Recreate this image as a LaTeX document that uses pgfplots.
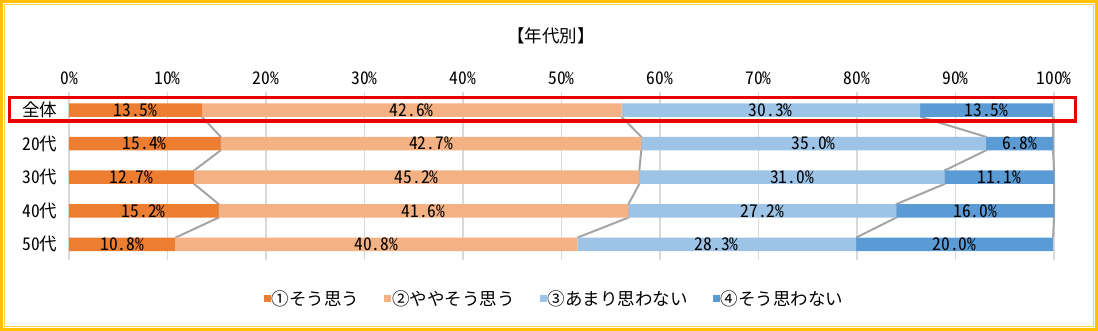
\documentclass[border=0pt]{standalone}
\usepackage{pgfplots}
\pgfplotsset{compat=1.18}
\usepackage{pgfplotstable}
\usepackage{fontspec}
\setmainfont{Noto Sans CJK JP}
\newfontfamily\numfont{Noto Sans CJK JP}[RawFeature=+hwid]
\newcommand\fs{\fontsize{17.5bp}{20bp}\selectfont}
\definecolor{cA}{HTML}{ED7D31}
\definecolor{cB}{HTML}{F4B183}
\definecolor{cC}{HTML}{9DC3E6}
\definecolor{cD}{HTML}{5B9BD5}
\definecolor{gridgray}{HTML}{D9D9D9}
\definecolor{sergray}{HTML}{A5A5A5}
\definecolor{gold}{HTML}{FFC000}
\definecolor{redbox}{HTML}{E80000}
\pgfplotstableread{
y a b c d
0 13.5 42.6 30.3 13.5
1 15.4 42.7 35.0 6.8
2 12.7 45.2 31.0 11.1
3 15.2 41.6 27.2 16.0
4 10.8 40.8 28.3 20.0
}\data
\pgfplotstablecreatecol[expr={\thisrow{a}/2}]{ma}{\data}
\pgfplotstablecreatecol[expr={\thisrow{a}+\thisrow{b}/2}]{mb}{\data}
\pgfplotstablecreatecol[expr={\thisrow{a}+\thisrow{b}+\thisrow{c}/2}]{mc}{\data}
\pgfplotstablecreatecol[expr={\thisrow{a}+\thisrow{b}+\thisrow{c}+\thisrow{d}/2}]{md}{\data}
\pgfplotsset{sqlegend/.style={legend image code/.code={\fill[#1] (0bp,-3.5bp) rectangle (7bp,3.5bp);}}}
\begin{document}
\begin{tikzpicture}[font=\fs]
\useasboundingbox (0,0) rectangle (1098bp,331bp);
\pgfplotsset{base/.style={
  at={(69bp,239bp)}, anchor=north west,
  x=9.85bp, y=33.6bp, y dir=reverse,
  xmin=0, xmax=100, ymin=-0.536, ymax=4.46,
  axis line style={draw=none}, major tick length=0pt,
  /pgf/number format/assume math mode=true,
  clip=false,
}}
\begin{axis}[base,
  xtick={0,10,...,100},
  xticklabels={0\%,10\%,20\%,30\%,40\%,50\%,60\%,70\%,80\%,90\%,100\%},
  xticklabel pos=upper,
  xticklabel style={font=\numfont\fs, yshift=4bp},
  xmajorgrids, grid style={color=gridgray, line width=1.6bp},
  ytick={0,1,2,3,4},
  yticklabels={全体,{\numfont 20}代,{\numfont 30}代,{\numfont 40}代,{\numfont 50}代},
  yticklabel style={font=\fs, anchor=east, xshift=-8bp},
]
\addplot[sergray, line width=2bp] coordinates {(13.5,0.2) (15.4,0.8) (15.4,1.2) (12.7,1.8) (12.7,2.2) (15.2,2.8) (15.2,3.2) (10.8,3.8)};
\addplot[sergray, line width=2bp] coordinates {(56.1,0.2) (58.1,0.8) (58.1,1.2) (57.9,1.8) (57.9,2.2) (56.8,2.8) (56.8,3.2) (51.6,3.8)};
\addplot[sergray, line width=2bp] coordinates {(86.4,0.2) (93.1,0.8) (93.1,1.2) (88.9,1.8) (88.9,2.2) (84.0,2.8) (84.0,3.2) (79.9,3.8)};
\addplot[sergray, line width=2bp] coordinates {(99.9,0.2) (99.9,0.8) (99.9,1.2) (100,1.8) (100,2.2) (100,2.8) (100,3.2) (99.9,3.8)};
\end{axis}
\begin{axis}[base,
  xbar stacked, bar width=13.5bp,
  xtick=\empty, ytick=\empty,
  legend style={at={(0.4924,-0.232)}, anchor=center, draw=none, fill=none,
     legend columns=4, font=\fs,
     /tikz/every even column/.append style={column sep=24bp},
     inner sep=0pt, nodes={inner sep=1bp}},
  sqlegend,
]
\addplot[fill=cA, draw=none] table[x=a, y=y]{\data};
\addplot[fill=cB, draw=none] table[x=b, y=y]{\data};
\addplot[fill=cC, draw=none] table[x=c, y=y]{\data};
\addplot[fill=cD, draw=none] table[x=d, y=y]{\data};
\legend{①そう思う,②ややそう思う,③あまり思わない,④そう思わない}
\end{axis}
\begin{axis}[base,
  xtick=\empty, ytick=\empty,
  point meta=explicit,
  nodes near coords={\numfont\pgfmathprintnumber[fixed,fixed zerofill,precision=1]{\pgfplotspointmeta}\%},
  every node near coord/.append style={anchor=center, text=black, inner sep=0pt, font=\fs},
]
\addplot[draw=none, mark=none] table[x=ma, y=y, meta=a]{\data};
\addplot[draw=none, mark=none] table[x=mb, y=y, meta=b]{\data};
\addplot[draw=none, mark=none] table[x=mc, y=y, meta=c]{\data};
\addplot[draw=none, mark=none] table[x=md, y=y, meta=d]{\data};
\end{axis}
\node[font=\fs] at (551bp,295bp) {【年代別】};
\draw[redbox, line width=3.5bp] (9.5bp,233.5bp) rectangle (1075.5bp,210bp);
\draw[gold, line width=3bp] (1.5bp,1.5bp) rectangle (1096.5bp,329.5bp);
\draw[gold!70, line width=1bp] (4.5bp,4.5bp) rectangle (1093.5bp,326.5bp);
\end{tikzpicture}
\end{document}
